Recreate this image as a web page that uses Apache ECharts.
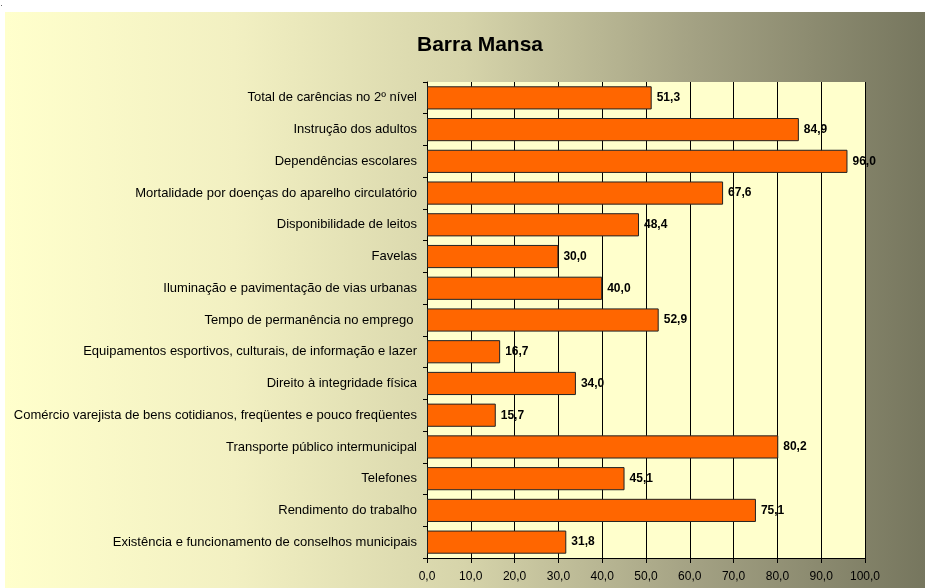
<!DOCTYPE html>
<html>
<head>
<meta charset="utf-8">
<script src="https://cdn.jsdelivr.net/npm/echarts@6/dist/echarts.min.js"></script>
<style>
  html, body { margin: 0; padding: 0; background: #fff; }
  #chart { width: 925px; height: 588px; }
</style>
</head>
<body>
<div id="chart"></div>
<script>
// categorias, de cima para baixo
const categorias = [
  'Total de carências no 2º nível',
  'Instrução dos adultos',
  'Dependências escolares',
  'Mortalidade por doenças do aparelho circulatório',
  'Disponibilidade de leitos',
  'Favelas',
  'Iluminação e pavimentação de vias urbanas',
  'Tempo de permanência no emprego ',
  'Equipamentos esportivos, culturais, de informação e lazer',
  'Direito à integridade física',
  'Comércio varejista de bens cotidianos, freqüentes e pouco freqüentes',
  'Transporte público intermunicipal',
  'Telefones',
  'Rendimento do trabalho',
  'Existência e funcionamento de conselhos municipais'
];
const valores = [51.3, 84.9, 96.0, 67.6, 48.4, 30.0, 40.0, 52.9, 16.7, 34.0, 15.7, 80.2, 45.1, 75.1, 31.8];
const ticksX = [0, 10, 20, 30, 40, 50, 60, 70, 80, 90, 100];

const fmt = v => Number(v).toFixed(1).replace('.', ',');

const chart = echarts.init(document.getElementById('chart'), null, { renderer: 'canvas' });

chart.setOption({
  backgroundColor: '#fff',
  animation: false,
  textStyle: { fontFamily: 'Liberation Sans, Arial, sans-serif' },
  graphic: [
    {
      type: 'rect',
      z: -10,
      silent: true,
      shape: { x: 5, y: 12, width: 920, height: 576 },
      style: {
        fill: new echarts.graphic.LinearGradient(0, 0, 1, 0, [
          { offset: 0, color: '#FFFFCC' },
          { offset: 0.25, color: '#F2F0C2' },
          { offset: 0.5, color: '#D6D4AA' },
          { offset: 0.75, color: '#A3A183' },
          { offset: 1, color: '#76765E' }
        ])
      }
    },
    {
      type: 'rect',
      z: -10,
      silent: true,
      shape: { x: 1, y: 5, width: 1, height: 1 },
      style: { fill: '#666' }
    }
  ],
  title: {
    text: 'Barra Mansa',
    left: 475,
    textAlign: 'center',
    top: 30,
    textStyle: { fontSize: 21, fontWeight: 'bold', color: '#000', fontFamily: 'Liberation Sans, Arial, sans-serif' }
  },
  grid: {
    left: 427,
    right: 60,
    top: 82,
    bottom: 30,
    show: true,
    backgroundColor: '#FFFFCC',
    borderWidth: 0
  },
  xAxis: {
    type: 'value',
    min: ticksX[0],
    max: ticksX[ticksX.length - 1],
    interval: 10,
    axisLine: { show: true, lineStyle: { color: '#000', width: 1 } },
    axisTick: { show: true, length: 5, lineStyle: { color: '#000' } },
    axisLabel: { color: '#000', fontSize: 12, margin: 13, formatter: fmt },
    splitLine: { show: true, lineStyle: { color: '#000', width: 1 } }
  },
  yAxis: {
    type: 'category',
    inverse: true,
    data: categorias,
    axisLine: { show: true, lineStyle: { color: '#000', width: 1 } },
    axisTick: { show: true, length: 4, lineStyle: { color: '#000' } },
    axisLabel: { color: '#000', fontSize: 13, margin: 10 },
    splitLine: { show: false }
  },
  series: [
    {
      type: 'bar',
      data: valores,
      barCategoryGap: '27%',
      itemStyle: { color: '#FF6600', borderColor: '#222', borderWidth: 1 },
      label: {
        show: true,
        position: 'right',
        distance: 5,
        color: '#000',
        fontSize: 12,
        fontWeight: 'bold',
        formatter: p => fmt(p.value)
      }
    }
  ]
});
</script>
</body>
</html>
